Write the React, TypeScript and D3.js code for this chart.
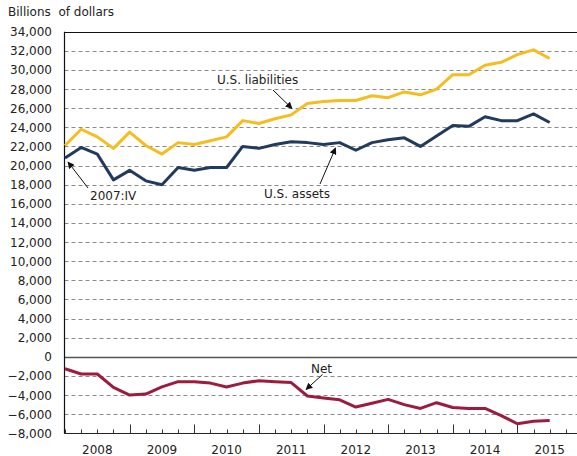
import React from "react";
import * as d3 from "d3";

const quarters = [
  "2007:IV", "2008:I", "2008:II", "2008:III", "2008:IV", "2009:I", "2009:II", "2009:III",
  "2009:IV", "2010:I", "2010:II", "2010:III", "2010:IV", "2011:I", "2011:II", "2011:III",
  "2011:IV", "2012:I", "2012:II", "2012:III", "2012:IV", "2013:I", "2013:II", "2013:III",
  "2013:IV", "2014:I", "2014:II", "2014:III", "2014:IV", "2015:I", "2015:II",
];
const liabilities = [
  22100, 23800, 23000, 21800, 23500, 22100, 21200, 22400, 22200, 22600, 23000, 24700, 24400,
  24900, 25300, 26500, 26700, 26800, 26800, 27300, 27100, 27700, 27400, 28000, 29500, 29500,
  30500, 30800, 31600, 32100, 31200,
];
const assets = [
  20800, 21900, 21200, 18500, 19500, 18400, 18000, 19800, 19500, 19800, 19800, 22000, 21800,
  22200, 22500, 22400, 22200, 22400, 21600, 22400, 22700, 22900, 22000, 23100, 24200, 24100,
  25100, 24700, 24700, 25400, 24500,
];
const net = [
  -1250, -1800, -1800, -3200, -4000, -3900, -3150, -2600, -2600, -2750, -3150, -2750, -2500,
  -2600, -2700, -4100, -4300, -4500, -5250, -4850, -4450, -5000, -5400, -4800, -5300, -5400,
  -5400, -6150, -7000, -6750, -6650,
];
const years = ["2008", "2009", "2010", "2011", "2012", "2013", "2014", "2015"];
const yTicks = d3.range(-8000, 34001, 2000);

const W = 577;
const H = 456;
const FONT = "'DejaVu Sans', Verdana, sans-serif";

export default function App() {
  const x = d3.scaleLinear().domain([0, 32]).range([65, 582]);
  const y = d3.scaleLinear().domain([-8000, 34000]).range([433.3, 31.7]);
  const left = 64.5;
  const right = 582;
  const line = d3
    .line<number>()
    .x((_, i) => x(i))
    .y((d) => y(d));

  const ticks = d3.range(0, 33);

  return (
    <svg
      width={W}
      height={H}
      style={{ position: "absolute", left: 0, top: 0, background: "#fff" }}
      fontFamily={FONT}
    >
      <defs>
        <marker
          id="arr"
          viewBox="0 0 10 10"
          refX="9"
          refY="5"
          markerWidth="7"
          markerHeight="7"
          orient="auto"
          markerUnits="userSpaceOnUse"
        >
          <path d="M0,0 L10,5 L0,10 z" fill="#111" />
        </marker>
      </defs>
      <rect width={W} height={H} fill="#fff" />
      <text x={8} y={16} fontSize={12} fill="#222" xmlSpace="preserve">
        {"Billions  of dollars"}
      </text>

      {yTicks.map((t) => {
        const yy = Math.round(y(t)) + 0.5;
        const isTop = t === 34000;
        const isZero = t === 0;
        const isBottom = t === -8000;
        return (
          <g key={t}>
            {!isTop && !isZero && !isBottom && (
              <line
                x1={left}
                x2={right}
                y1={yy}
                y2={yy}
                stroke="#8a8a8a"
                strokeWidth={1}
                strokeDasharray="4,3"
              />
            )}
            <text
              x={52}
              y={y(t) + 4.5}
              textAnchor="end"
              fontSize={12}
              fill="#222"
            >
              {d3.format(",")(t)}
            </text>
          </g>
        );
      })}

      {/* zero line */}
      <line x1={left} x2={right} y1={Math.round(y(0)) + 0.5} y2={Math.round(y(0)) + 0.5} stroke="#555" strokeWidth={1.3} />
      {/* top border */}
      <line x1={left} x2={right} y1={Math.round(y(34000)) + 0.5} y2={Math.round(y(34000)) + 0.5} stroke="#111" strokeWidth={1.2} />
      {/* bottom axis */}
      <line x1={left} x2={right} y1={Math.round(y(-8000)) + 0.5} y2={Math.round(y(-8000)) + 0.5} stroke="#222" strokeWidth={1.2} />
      {/* left axis */}
      <line x1={left} x2={left} y1={y(34000)} y2={y(-8000) + 0.5} stroke="#111" strokeWidth={1.2} />

      {ticks.map((i) => {
        const major = i % 4 === 0 && i > 0;
        const yb = Math.round(y(-8000)) + 0.5;
        return (
          <line
            key={i}
            x1={Math.round(x(i)) + 0.5}
            x2={Math.round(x(i)) + 0.5}
            y1={yb}
            y2={yb - (major ? 9 : 4)}
            stroke="#333"
            strokeWidth={1}
          />
        );
      })}
      {years.map((yr, k) => (
        <text key={yr} x={x(k * 4 + 2)} y={454} textAnchor="middle" fontSize={12} fill="#222">
          {yr}
        </text>
      ))}

      <path d={line(liabilities) || ""} fill="none" stroke="#F5BD1F" strokeWidth={3} strokeLinejoin="round" />
      <path d={line(assets) || ""} fill="none" stroke="#223A5E" strokeWidth={3} strokeLinejoin="round" />
      <path d={line(net) || ""} fill="none" stroke="#9C1C3F" strokeWidth={3} strokeLinejoin="round" />

      {/* annotations */}
      <text x={217} y={84} fontSize={12} fill="#222">U.S. liabilities</text>
      <line x1={273} y1={90} x2={292} y2={108.5} stroke="#111" strokeWidth={1} markerEnd="url(#arr)" />

      <text x={264} y={198} fontSize={12} fill="#222">U.S. assets</text>
      <line x1={320} y1={184} x2={335.5} y2={148} stroke="#111" strokeWidth={1} markerEnd="url(#arr)" />

      <text x={90} y={200} fontSize={12} fill="#222">{quarters[0]}</text>
      <line x1={88} y1={188} x2={68} y2={162} stroke="#111" strokeWidth={1} markerEnd="url(#arr)" />

      <text x={311} y={372.5} fontSize={12} fill="#222">Net</text>
      <line x1={322.5} y1={374.5} x2={306} y2={389.5} stroke="#111" strokeWidth={1} markerEnd="url(#arr)" />
    </svg>
  );
}
